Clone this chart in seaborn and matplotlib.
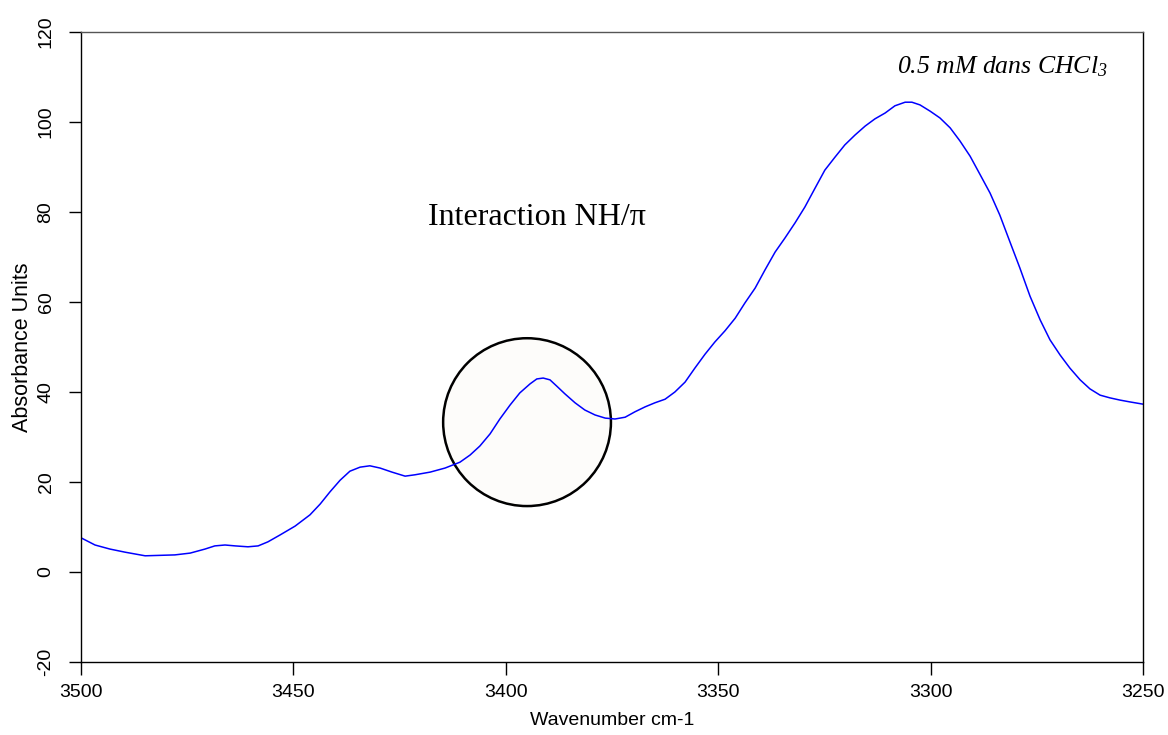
import numpy as np
import pandas as pd
import matplotlib.pyplot as plt
import seaborn as sns
from matplotlib.patches import Ellipse

# Spectre IR
nombre_onde = [3500.0, 3496.7, 3493.2, 3489.6, 3484.9, 3481.4, 3477.9, 3474.3, 3470.8, 3468.5,
               3466.1, 3463.7, 3460.7, 3458.3, 3456.0, 3453.2, 3449.6, 3446.1, 3443.7, 3441.4,
               3439.0, 3436.7, 3434.3, 3432.0, 3429.6, 3426.8, 3423.7, 3421.4, 3417.8, 3414.3,
               3410.8, 3408.4, 3406.1, 3403.7, 3401.4, 3399.0, 3396.7, 3394.3, 3392.7, 3391.2,
               3389.6, 3388.0, 3386.1, 3383.7, 3381.4, 3379.0, 3376.6, 3374.3, 3371.9, 3369.6,
               3367.2, 3364.9, 3362.5, 3360.2, 3357.8, 3355.5, 3353.1, 3350.8, 3348.4, 3346.0,
               3343.7, 3341.3, 3339.0, 3336.6, 3334.3, 3331.9, 3329.6, 3327.2, 3324.9, 3322.5,
               3320.2, 3317.8, 3315.4, 3313.1, 3310.7, 3308.4, 3306.0, 3304.4, 3302.5, 3300.1,
               3297.8, 3295.4, 3293.1, 3290.7, 3288.4, 3286.0, 3283.7, 3281.3, 3279.0, 3276.6,
               3274.2, 3271.9, 3269.5, 3267.2, 3264.8, 3262.5, 3260.1, 3257.8, 3255.4, 3253.1,
               3250.0]
absorbance = [7.6, 6.0, 5.1, 4.4, 3.6, 3.7, 3.8, 4.2, 5.1, 5.8,
              6.0, 5.8, 5.6, 5.8, 6.7, 8.2, 10.2, 12.7, 15.1, 17.8,
              20.4, 22.4, 23.3, 23.6, 23.1, 22.2, 21.3, 21.6, 22.2, 23.1,
              24.4, 26.0, 28.0, 30.7, 34.0, 37.1, 39.8, 41.8, 42.9, 43.1,
              42.7, 41.3, 39.6, 37.6, 36.0, 34.9, 34.2, 34.0, 34.4, 35.6,
              36.7, 37.6, 38.4, 40.0, 42.2, 45.3, 48.4, 51.1, 53.6, 56.4,
              59.8, 63.1, 67.1, 71.1, 74.2, 77.6, 81.1, 85.3, 89.3, 92.2,
              94.9, 97.1, 99.1, 100.7, 102.0, 103.6, 104.4, 104.4, 103.8, 102.4,
              100.9, 98.7, 95.8, 92.4, 88.4, 84.2, 79.3, 73.3, 67.6, 61.3,
              56.0, 51.6, 48.2, 45.3, 42.7, 40.7, 39.3, 38.7, 38.2, 37.8,
              37.3]

y_ticks = [-20, 0, 20, 40, 60, 80, 100, 120]
x_ticks = [3500, 3450, 3400, 3350, 3300, 3250]

# Cercle de mise en évidence (centre et taille en unités des axes)
cercle_x, cercle_y = 3395, 33.3
cercle_l, cercle_h = 39.5, 37.3

sns.set_style("ticks")
plt.rcParams['font.family'] = ['Liberation Sans', 'DejaVu Sans']
plt.rcParams['text.color'] = 'black'
plt.rcParams['axes.labelcolor'] = 'black'
plt.rcParams['mathtext.fontset'] = 'custom'
plt.rcParams['mathtext.rm'] = 'Liberation Serif:italic'
plt.rcParams['mathtext.it'] = 'Liberation Serif:italic'

df = pd.DataFrame({'nu': nombre_onde, 'abs': absorbance})

fig = plt.figure(figsize=(11.68, 7.35), dpi=100)
ax = fig.add_axes([81 / 1168, 1 - 662 / 735, (1143 - 81) / 1168, (662 - 32) / 735])

ax.add_patch(Ellipse((cercle_x, cercle_y), cercle_l, cercle_h, facecolor='#fdfcfa',
                     edgecolor='black', linewidth=1.8, zorder=1))
sns.lineplot(data=df, x='nu', y='abs', color='#0000ff', linewidth=1.1, ax=ax, zorder=2)

ax.set_xlim(3500, 3250)
ax.set_ylim(-20, 120)
ax.set_xticks(x_ticks)
ax.set_yticks(y_ticks)
ax.set_yticklabels([str(v) for v in y_ticks], rotation=90, va='center')
ax.tick_params(axis='both', direction='out', length=9, width=1, labelsize=14, colors='black')
ax.tick_params(axis='y', pad=10)
ax.tick_params(axis='x', pad=6.5)
for s in ax.spines.values():
    s.set_color('black')
    s.set_linewidth(1)
ax.spines['top'].set_color('#555555')

ax.set_xlabel('Wavenumber cm-1', fontsize=14, labelpad=8)
ax.set_ylabel('Absorbance Units', fontsize=15.5, labelpad=3)

ax.text(3392.7, 78.7, 'Interaction NH/\u03c0', fontsize=23, family='Liberation Serif',
        ha='center', va='center')
ax.text(3283, 112.2, r'0.5 mM dans CHCl$_\mathit{3}$', fontsize=18.5, family='Liberation Serif',
        style='italic', ha='center', va='center')

fig.savefig('out.png', dpi=100)
